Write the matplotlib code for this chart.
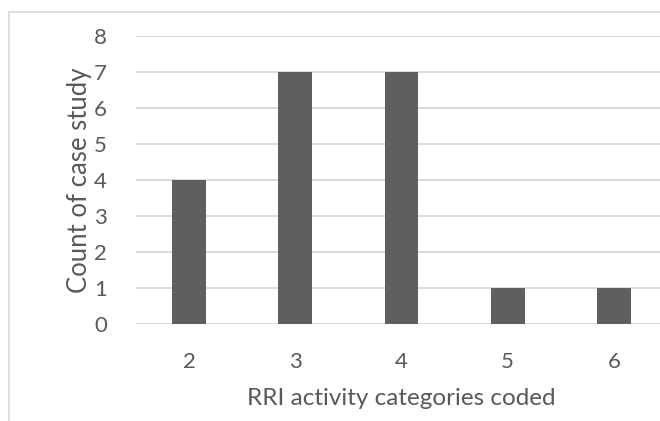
import matplotlib
matplotlib.use("Agg")
import matplotlib.pyplot as plt
from matplotlib.patches import Rectangle

# categories coded per case study and how many case studies fall in each
categories = ["2", "3", "4", "5", "6"]
counts = [4, 7, 7, 1, 1]

plt.rcParams['font.family'] = ['Lato', 'DejaVu Sans']
text_col = "#595959"

fig = plt.figure(figsize=(6.6, 4.21), dpi=100)
W, H = 660, 421

# chart frame (runs off the right and bottom edges)
fig.patches.append(Rectangle((9 / W, -0.1), 1.2, (421 - 12) / H + 0.1,
                             transform=fig.transFigure, fill=False,
                             edgecolor="#d9d9d9", linewidth=1.2))

ax = fig.add_axes([136 / W, (H - 324) / H, 531 / W, (324 - 36) / H])
x = list(range(len(categories)))
ax.bar(x, counts, width=0.32, color="#5f5f5f", zorder=3)

ax.set_xlim(-0.5, len(categories) - 0.5)
ax.set_ylim(0, 8)
ax.set_yticks(range(0, 9))
ax.set_xticks(x)
ax.set_xticklabels(categories)
ax.grid(axis="y", color="#d9d9d9", linewidth=1.3, zorder=0)
for s in ax.spines.values():
    s.set_visible(False)
ax.tick_params(length=0, labelsize=16, colors=text_col)
ax.tick_params(axis="x", pad=20)
ax.tick_params(axis="y", pad=21)

ax.set_xlabel("RRI activity categories coded", fontsize=17.5, color=text_col, labelpad=12)
ax.set_ylabel("Count of case study", fontsize=18.5, color=text_col, labelpad=1)

fig.savefig("out.png", dpi=100)
